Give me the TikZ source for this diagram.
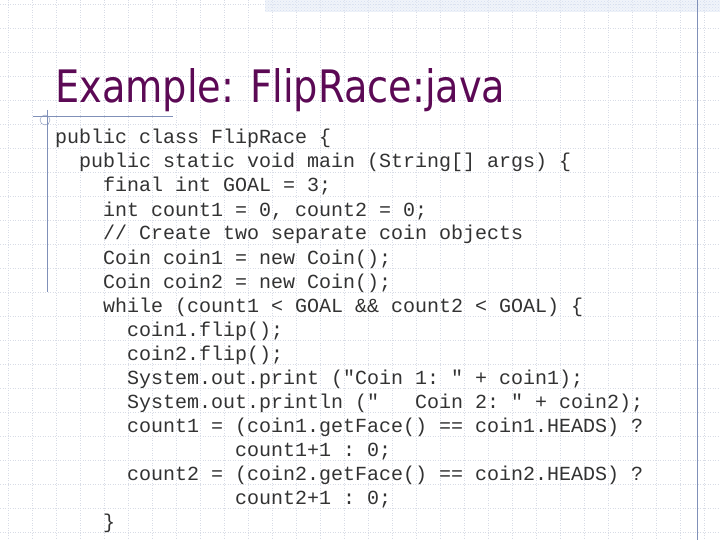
\documentclass[tikz,border=0pt]{standalone}
\usepackage{fontspec}
\setmainfont{DejaVu Sans}
\setmonofont{Liberation Mono}
\usetikzlibrary{patterns}
\definecolor{titlec}{HTML}{5C0A55}
\definecolor{gridc}{HTML}{D8DCE6}
\definecolor{linec}{HTML}{8090B8}
\definecolor{barc}{HTML}{C8D4EC}
\begin{document}
\begin{tikzpicture}[x=1pt,y=-1pt,
  code/.style={anchor=base west,inner sep=0,font=\ttfamily\fontsize{20}{24}\selectfont,text=black!80}]
\useasboundingbox (0,0) rectangle (720,540);
\fill[white] (0,0) rectangle (720,540);
\foreach \x in {8,32,...,720} \draw[gridc,dotted,line width=0.5pt] (\x,0) -- (\x,540);
\foreach \y in {4,28,...,540} \draw[gridc,dotted,line width=0.5pt] (0,\y) -- (720,\y);
\fill[pattern=crosshatch dots,pattern color=barc] (265,0) rectangle (720,12);
\fill[barc!50,opacity=0.5] (265,0) rectangle (720,12);
\draw[linec] (697,0) -- (697,540);
\draw[linec] (33,116) -- (173,116);
\draw[linec] (47,110) -- (47,292);
\draw[linec] (45,120) circle (5);
\node[anchor=base west,inner sep=0,text=titlec] (title) at (55,103) {\resizebox{450pt}{34pt}{Example: FlipRace:java}};
\node[code] (l1) at (55,144) {public class FlipRace \{};
\node[code] (l2) at (79,168) {public static void main (String[] args) \{};
\node[code] (l3) at (103,192) {final int GOAL = 3;};
\node[code] (l4) at (103,216) {int count1 = 0, count2 = 0;};
\node[code] (l5) at (103,240) {// Create two separate coin objects};
\node[code] (l6) at (103,264) {Coin coin1 = new Coin();};
\node[code] (l7) at (103,288) {Coin coin2 = new Coin();};
\node[code] (l8) at (103,312) {while (count1 < GOAL \&\& count2 < GOAL) \{};
\node[code] (l9) at (127,336) {coin1.flip();};
\node[code] (l10) at (127,360) {coin2.flip();};
\node[code] (l11) at (127,384) {System.out.print ("Coin 1: " + coin1);};
\node[code] (l12) at (127,408) {System.out.println ("\ \ \ Coin 2: " + coin2);};
\node[code] (l13) at (127,432) {count1 = (coin1.getFace() == coin1.HEADS) ?};
\node[code] (l14) at (235,456) {count1+1 : 0;};
\node[code] (l15) at (127,480) {count2 = (coin2.getFace() == coin2.HEADS) ?};
\node[code] (l16) at (235,504) {count2+1 : 0;};
\node[code] (l17) at (103,528) {\}};
\end{tikzpicture}
\end{document}
